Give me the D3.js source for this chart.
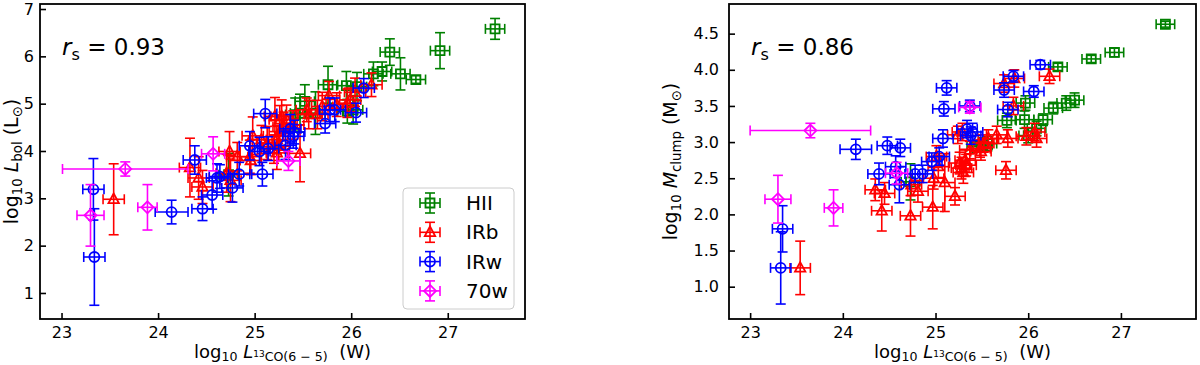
<!DOCTYPE html>
<html>
<head>
<meta charset="utf-8">
<script src="https://cdn.jsdelivr.net/npm/d3@7"></script>
<style>
  html, body { margin: 0; padding: 0; background: #fff; }
  svg { display: block; font-family: "DejaVu Sans", sans-serif; }
  text { white-space: pre; }
</style>
</head>
<body>
<svg id="fig" width="1200" height="365"></svg>
<script>
// ---------------- DATA ----------------
const categories = ["HII", "IRb", "IRw", "70w"];
const xTicks = [23, 24, 25, 26, 27];
const yTicksLbol = [1, 2, 3, 4, 5, 6, 7];
const yTicksMclump = [1.0, 1.5, 2.0, 2.5, 3.0, 3.5, 4.0, 4.5];
const rsLbol = "0.93";
const rsMclump = "0.86";

// HII  (left panel: L_bol ; right panel: M_clump)
const hiiX_L = [24.73, 25.42, 25.47, 25.52, 25.63, 25.76, 25.95, 25.96, 26.02, 26.06, 26.23, 26.32, 26.40, 26.51, 26.67, 26.92, 27.49];
const hiiY_L = [3.50, 4.77, 4.80, 5.05, 4.80, 5.40, 5.38, 4.84, 4.87, 5.36, 5.63, 5.68, 6.09, 5.63, 5.51, 6.12, 6.58];
const hiiYerr_L = [0.45, 0.35, 0.40, 0.35, 0.45, 0.39, 0.30, 0.25, 0.30, 0.30, 0.25, 0.20, 0.28, 0.34, 0.08, 0.38, 0.22];
const hiiX_R = [24.73, 25.44, 25.51, 25.56, 25.77, 25.96, 25.97, 26.00, 26.09, 26.16, 26.27, 26.32, 26.41, 26.50, 26.68, 26.93, 27.48];
const hiiY_R = [2.45, 2.94, 2.96, 2.98, 3.30, 3.31, 3.54, 3.09, 3.19, 3.31, 3.47, 4.04, 3.54, 3.58, 4.15, 4.24, 4.63];
const hiiYerr_R = [0.25, 0.08, 0.10, 0.10, 0.10, 0.12, 0.10, 0.10, 0.10, 0.08, 0.08, 0.05, 0.10, 0.10, 0.05, 0.06, 0.04];
const hiiXerr = [0.10, 0.10, 0.10, 0.10, 0.10, 0.10, 0.10, 0.10, 0.10, 0.10, 0.10, 0.10, 0.10, 0.10, 0.10, 0.10, 0.10];

// IRb
const irbX_L = [23.54, 24.33, 24.42, 24.46, 24.71, 24.74, 24.75, 24.82, 24.95, 24.96, 24.98, 25.07, 25.13, 25.20, 25.21, 25.23, 25.23, 25.25, 25.26, 25.26, 25.28, 25.30, 25.33, 25.40, 25.47, 25.54, 25.56, 25.65, 25.70, 25.77, 25.85, 25.96, 25.99, 26.04, 26.21];
const irbY_L = [2.98, 3.65, 3.43, 3.24, 3.53, 3.99, 3.38, 3.88, 3.88, 3.80, 4.32, 4.24, 4.17, 4.04, 4.73, 4.24, 3.96, 4.10, 4.41, 4.66, 4.73, 4.52, 4.67, 4.55, 3.95, 4.87, 4.77, 4.77, 4.94, 5.17, 4.98, 5.01, 5.08, 5.24, 5.40];
const irbYerr_L = [0.75, 0.62, 0.45, 0.35, 0.40, 0.42, 0.45, 0.30, 0.35, 0.30, 0.40, 0.30, 0.35, 0.30, 0.40, 0.30, 0.35, 0.30, 0.35, 0.30, 0.35, 0.30, 0.30, 0.30, 0.60, 0.25, 0.30, 0.30, 0.30, 0.30, 0.25, 0.30, 0.25, 0.30, 0.25];
const irbX_R = [23.54, 24.35, 24.42, 24.45, 24.73, 24.74, 24.81, 24.97, 24.98, 25.01, 25.03, 25.10, 25.21, 25.24, 25.26, 25.28, 25.29, 25.30, 25.32, 25.33, 25.37, 25.48, 25.49, 25.52, 25.57, 25.66, 25.74, 25.76, 25.78, 25.84, 25.85, 25.98, 26.07, 26.09, 26.23];
const irbY_R = [1.26, 2.34, 2.05, 2.29, 1.98, 2.41, 2.32, 2.10, 2.50, 2.80, 2.66, 2.44, 2.25, 3.10, 2.71, 2.64, 3.14, 2.58, 2.75, 2.68, 2.89, 2.91, 2.87, 2.98, 3.05, 3.10, 3.81, 2.61, 3.05, 3.50, 3.88, 3.08, 3.14, 3.05, 3.91];
const irbYerr_R = [0.37, 0.15, 0.28, 0.15, 0.28, 0.15, 0.15, 0.30, 0.15, 0.15, 0.15, 0.40, 0.12, 0.12, 0.15, 0.15, 0.12, 0.15, 0.15, 0.15, 0.12, 0.12, 0.12, 0.12, 0.12, 0.12, 0.12, 0.12, 0.12, 0.12, 0.12, 0.12, 0.12, 0.12, 0.10];
const irbXerr = [0.11, 0.11, 0.11, 0.11, 0.11, 0.11, 0.11, 0.11, 0.11, 0.11, 0.11, 0.11, 0.11, 0.11, 0.11, 0.11, 0.11, 0.11, 0.11, 0.11, 0.11, 0.11, 0.11, 0.11, 0.11, 0.11, 0.11, 0.11, 0.11, 0.11, 0.11, 0.11, 0.11, 0.11, 0.11];

// IRw
const irwX_L = [23.33, 23.34, 24.14, 24.38, 24.46, 24.56, 24.61, 24.64, 24.77, 24.84, 24.95, 25.05, 25.08, 25.11, 25.14, 25.32, 25.37, 25.40, 25.41, 25.73, 25.78, 25.83, 26.05, 26.13];
const irwY_L = [3.19, 1.76, 2.71, 3.81, 2.78, 3.07, 3.43, 3.46, 3.22, 3.51, 4.11, 3.99, 3.51, 4.79, 4.05, 4.12, 4.47, 4.31, 4.40, 4.58, 4.87, 4.87, 4.81, 5.33];
const irwYerr_L = [0.65, 1.02, 0.25, 0.30, 0.25, 0.30, 0.30, 0.25, 0.30, 0.25, 0.30, 0.30, 0.25, 0.30, 0.25, 0.30, 0.30, 0.25, 0.25, 0.20, 0.25, 0.25, 0.20, 0.20];
const irwX_R = [23.35, 23.33, 24.14, 24.39, 24.48, 24.57, 24.61, 24.62, 24.78, 24.86, 24.96, 25.04, 25.08, 25.09, 25.12, 25.34, 25.37, 25.38, 25.40, 25.74, 25.78, 25.84, 26.06, 26.13];
const irwY_R = [1.80, 1.26, 2.90, 2.56, 2.95, 2.66, 2.41, 2.92, 2.56, 2.56, 2.73, 2.80, 3.05, 3.46, 3.75, 3.18, 3.50, 3.09, 3.14, 3.72, 3.45, 3.91, 3.70, 4.07];
const irwYerr_R = [0.32, 0.50, 0.14, 0.15, 0.12, 0.15, 0.25, 0.12, 0.12, 0.12, 0.12, 0.12, 0.12, 0.10, 0.10, 0.12, 0.08, 0.12, 0.12, 0.10, 0.10, 0.08, 0.08, 0.06];
const irwXerr = [0.11, 0.11, 0.17, 0.12, 0.11, 0.11, 0.11, 0.11, 0.11, 0.11, 0.11, 0.11, 0.11, 0.12, 0.11, 0.11, 0.11, 0.11, 0.11, 0.11, 0.11, 0.11, 0.11, 0.11];

// 70w
const w70X_L = [23.66, 23.30, 23.89, 24.57, 25.35];
const w70Y_L = [3.62, 2.64, 2.81, 3.94, 3.79];
const w70Yerr_L = [0.15, 0.65, 0.48, 0.36, 0.20];
const w70X_R = [23.65, 23.30, 23.90, 24.58, 25.37];
const w70Y_R = [3.16, 2.21, 2.09, 2.57, 3.48];
const w70Yerr_R = [0.10, 0.33, 0.25, 0.15, 0.08];
const w70Xerr = [0.65, 0.14, 0.10, 0.12, 0.12];

// ---------------- STYLE / LAYOUT ----------------
const colors = { "HII": "green", "IRb": "red", "IRw": "blue", "70w": "magenta" };
const shapes = { "HII": "square", "IRb": "triangle", "IRw": "circle", "70w": "diamond" };
const FONT = "DejaVu Sans";
const svg = d3.select("#fig");

function markerPath(shape) {
  if (shape === "square") return "M-4.5,-4.5H4.5V4.5H-4.5Z";
  if (shape === "circle") return d3.symbol(d3.symbolCircle, 78)();
  if (shape === "triangle") return "M0,-5.8L5.2,3.8L-5.2,3.8Z";
  if (shape === "diamond") return "M0,-6L6,0L0,6L-6,0Z";
}

function rich(t, parts, fs) {
  let cur = 0;
  parts.forEach(p => {
    const off = (p.off || 0) * fs;
    t.append("tspan")
      .attr("dy", off - cur)
      .attr("font-size", (p.s || 1) * fs)
      .attr("font-style", p.i ? "italic" : "normal")
      .text(p.t);
    cur = off;
  });
}

const panels = [
  {
    left: 40, right: 525, top: 4, bottom: 319,
    xDom: [22.777, 27.80], yDom: [0.45, 7.106],
    yTicks: yTicksLbol, yFmt: d3.format("d"), rs: rsLbol, yPad: 6,
    series: [
      ["HII", hiiX_L, hiiY_L, hiiXerr, hiiYerr_L],
      ["IRb", irbX_L, irbY_L, irbXerr, irbYerr_L],
      ["IRw", irwX_L, irwY_L, irwXerr, irwYerr_L],
      ["70w", w70X_L, w70Y_L, w70Xerr, w70Yerr_L]
    ],
    ylab: [{t: "log"}, {t: "10", off: 0.22, s: 0.7}, {t: " "}, {t: "L", i: true}, {t: "bol", off: 0.22, s: 0.7}, {t: " (L"}, {t: "⊙", off: 0.22, s: 0.7}, {t: ")"}],
    ylabX: 18, legend: true
  },
  {
    left: 729, right: 1196, top: 4, bottom: 319,
    xDom: [22.772, 27.81], yDom: [0.553, 4.91],
    yTicks: yTicksMclump, yFmt: d3.format(".1f"), rs: rsMclump, yPad: 10,
    series: [
      ["HII", hiiX_R, hiiY_R, hiiXerr, hiiYerr_R],
      ["IRb", irbX_R, irbY_R, irbXerr, irbYerr_R],
      ["IRw", irwX_R, irwY_R, irwXerr, irwYerr_R],
      ["70w", w70X_R, w70Y_R, w70Xerr, w70Yerr_R]
    ],
    ylab: [{t: "log"}, {t: "10", off: 0.22, s: 0.7}, {t: " "}, {t: "M", i: true}, {t: "clump", off: 0.22, s: 0.7}, {t: " (M"}, {t: "⊙", off: 0.22, s: 0.7}, {t: ")"}],
    ylabX: 677, legend: false
  }
];

function drawPoint(g, cx, cy, x0, x1, y0, y1, color, shape) {
  const cap = 5;
  const lw = 1.6;
  g.append("line").attr("x1", x0).attr("x2", x1).attr("y1", cy).attr("y2", cy).attr("stroke", color).attr("stroke-width", lw);
  g.append("line").attr("x1", x0).attr("x2", x0).attr("y1", cy - cap).attr("y2", cy + cap).attr("stroke", color).attr("stroke-width", lw);
  g.append("line").attr("x1", x1).attr("x2", x1).attr("y1", cy - cap).attr("y2", cy + cap).attr("stroke", color).attr("stroke-width", lw);
  g.append("line").attr("x1", cx).attr("x2", cx).attr("y1", y0).attr("y2", y1).attr("stroke", color).attr("stroke-width", lw);
  g.append("line").attr("x1", cx - cap).attr("x2", cx + cap).attr("y1", y0).attr("y2", y0).attr("stroke", color).attr("stroke-width", lw);
  g.append("line").attr("x1", cx - cap).attr("x2", cx + cap).attr("y1", y1).attr("y2", y1).attr("stroke", color).attr("stroke-width", lw);
  g.append("path").attr("d", markerPath(shape)).attr("transform", `translate(${cx},${cy})`)
    .attr("fill", "none").attr("stroke", color).attr("stroke-width", 1.8);
}

panels.forEach(p => {
  const x = d3.scaleLinear().domain(p.xDom).range([p.left, p.right]);
  const y = d3.scaleLinear().domain(p.yDom).range([p.bottom, p.top]);
  const g = svg.append("g");

  const clipId = "clip" + p.left;
  svg.append("clipPath").attr("id", clipId).append("rect")
    .attr("x", p.left).attr("y", p.top).attr("width", p.right - p.left).attr("height", p.bottom - p.top);
  const data = g.append("g").attr("clip-path", `url(#${clipId})`);

  p.series.forEach(([cat, xs, ys, xe, ye]) => {
    const sg = data.append("g");
    xs.forEach((xv, i) => {
      drawPoint(sg, x(xv), y(ys[i]), x(xv - xe[i]), x(xv + xe[i]), y(ys[i] - ye[i]), y(ys[i] + ye[i]), colors[cat], shapes[cat]);
    });
  });

  const ax = g.append("g").attr("transform", `translate(0,${p.bottom})`)
    .call(d3.axisBottom(x).tickValues(xTicks).tickFormat(d3.format("d")).tickSize(-6).tickPadding(8));
  const ay = g.append("g").attr("transform", `translate(${p.left},0)`)
    .call(d3.axisLeft(y).tickValues(p.yTicks).tickFormat(p.yFmt).tickSize(-6).tickPadding(p.yPad));
  [ax, ay].forEach(a => {
    a.select(".domain").remove();
    a.selectAll(".tick line").attr("stroke", "#000").attr("stroke-width", 1.6);
    a.selectAll(".tick text").attr("font-family", FONT).attr("font-size", 16).attr("fill", "#000");
  });

  g.append("rect").attr("x", p.left).attr("y", p.top).attr("width", p.right - p.left).attr("height", p.bottom - p.top)
    .attr("fill", "none").attr("stroke", "#000").attr("stroke-width", 1.8);

  const rt = g.append("text").attr("x", p.left + 22).attr("y", 55).attr("font-family", FONT).attr("fill", "#000");
  rich(rt, [{t: "r", i: true}, {t: "s", off: 0.22, s: 0.7}, {t: " = " + p.rs}], 23);

  const cx = (p.left + p.right) / 2;
  const xl = g.append("text").attr("x", cx).attr("y", 358).attr("text-anchor", "middle").attr("font-family", FONT).attr("fill", "#000");
  rich(xl, [{t: "log"}, {t: "10", off: 0.18, s: 0.7}, {t: " "}, {t: "L", i: true}, {t: "13", off: -0.04, s: 0.5}, {t: "CO(6 − 5)", off: 0.18, s: 0.7}, {t: "  (W)"}], 18);

  const cy = (p.top + p.bottom) / 2;
  const yl = g.append("text").attr("transform", `translate(${p.ylabX},${cy}) rotate(-90)`).attr("text-anchor", "middle").attr("font-family", FONT).attr("fill", "#000");
  rich(yl, p.ylab, 19);

  if (p.legend) {
    const lg = g.append("g");
    lg.append("rect").attr("x", 403).attr("y", 188).attr("width", 111).attr("height", 121).attr("rx", 4)
      .attr("fill", "#fff").attr("fill-opacity", 0.8).attr("stroke", "#cccccc").attr("stroke-width", 1);
    categories.forEach((c, i) => {
      const ly = 203 + i * 29.3;
      drawPoint(lg, 430, ly, 420, 440, ly + 10, ly - 10, colors[c], shapes[c]);
      lg.append("text").attr("x", 466).attr("y", ly + 7).attr("font-family", FONT).attr("font-size", 20).attr("fill", "#000").text(c);
    });
  }
});
</script>
</body>
</html>
